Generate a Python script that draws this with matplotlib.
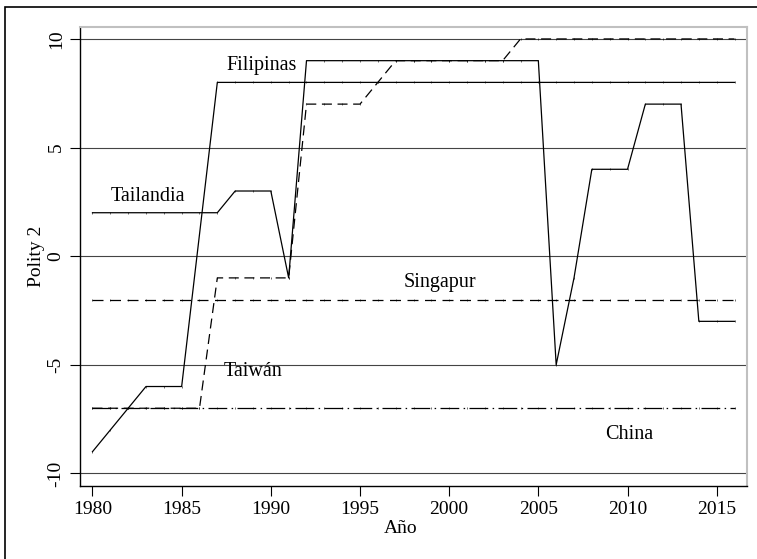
import numpy as np
import matplotlib
matplotlib.use("Agg")
import matplotlib.pyplot as plt
import matplotlib.patches as mpatches

plt.rcParams['font.family'] = ['Liberation Serif', 'DejaVu Serif']

years = list(range(1980, 2017))

# polity2 values, one per year 1980-2016
filipinas = [-9, -8, -7, -6, -6, -6, 1] + [8] * 30
tailandia = ([2] * 8 + [3, 3, 3, -1] + [9] * 14 + [-5, -1, 4, 4, 4, 7, 7, 7, -3, -3, -3])
singapur = [-2] * 37
taiwan = ([-7] * 7 + [-1] * 5 + [7, 7, 7, 7, 8, 9] + [9] * 6 + [10] * 13)
china = [-7] * 37

labels = ['Filipinas', 'Tailandia', 'Singapur', 'Taiwán', 'China']
label_pos = [(1989.5, 8.8), (1983.1, 2.75), (1999.5, -1.2), (1989.0, -5.3), (2010.1, -8.2)]

yticks = [-10, -5, 0, 5, 10]
xticks = [1980, 1985, 1990, 1995, 2000, 2005, 2010, 2015]

fig = plt.figure(figsize=(7.57, 5.59), dpi=100)
ax = fig.add_axes([80 / 757, 1 - 486 / 559, 667 / 757, 459 / 559])

for y in yticks:
    ax.axhline(y, color='#444444', lw=0.8, zorder=1)

kw = dict(color='black', lw=0.9, marker='|', markersize=2, markeredgewidth=0.4, zorder=3)
ax.plot(years, filipinas, ls='-', **kw)
ax.plot(years, tailandia, ls='-', **kw)
ax.plot(years, singapur, ls=(0, (8.8, 5.2)), **kw)
ax.plot(years, taiwan, ls=(0, (8, 4.5)), **kw)
ax.plot(years, china, ls=(0, (15, 3.5, 1.2, 3.5)), **kw)

for name, (x, y) in zip(labels, label_pos):
    ax.text(x, y, name, ha='center', va='center', fontsize=14.5)

ax.set_xlim(1979.3, 2016.7)
ax.set_ylim(-10.58, 10.55)
ax.set_xticks(xticks)
ax.set_yticks(yticks)
ax.set_yticklabels([str(v) for v in yticks], rotation=90, va='center')
ax.tick_params(labelsize=14, length=7, width=0.8, color='black')
ax.tick_params(axis='y', pad=4)
ax.spines['top'].set_color('#c0c0c0')
ax.spines['right'].set_color('#c0c0c0')
ax.spines['top'].set_linewidth(1.5)
ax.spines['right'].set_linewidth(1.5)
ax.spines['left'].set_linewidth(1.0)
ax.spines['bottom'].set_linewidth(1.0)

ax.set_xlabel('Año', fontsize=14)
ax.xaxis.set_label_coords(0.48, -0.075)
ax.set_ylabel('Polity 2', fontsize=14, labelpad=2)

frame = mpatches.Rectangle((5 / 757, -0.1), 1.2, (559 - 7) / 559 + 0.1,
                           transform=fig.transFigure, fill=False,
                           edgecolor='black', lw=1.2, clip_on=False)
fig.patches.append(frame)

fig.savefig('out.png', dpi=100)
